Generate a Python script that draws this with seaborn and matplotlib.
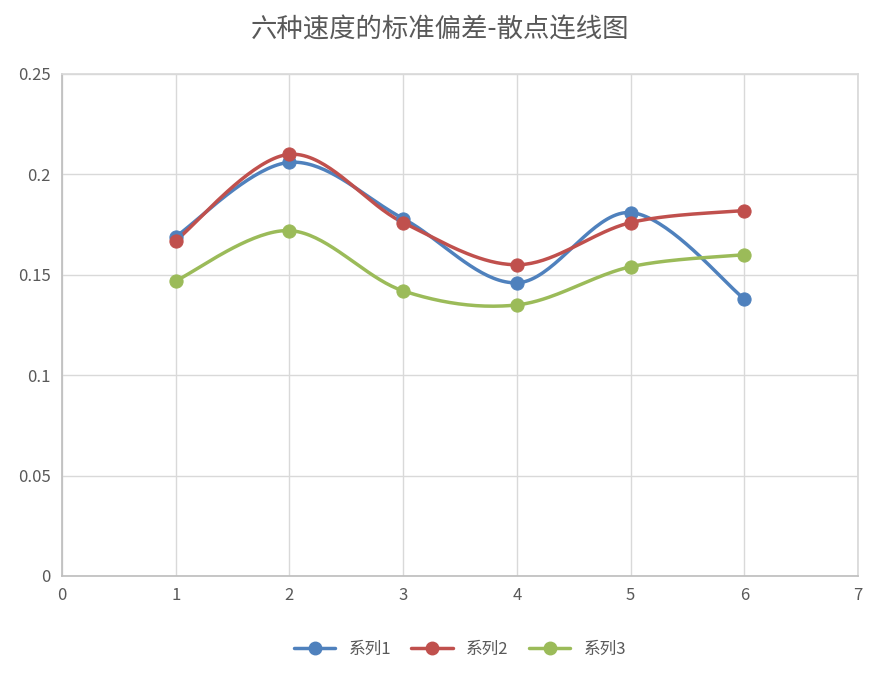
import numpy as np
import matplotlib
matplotlib.use("Agg")
import matplotlib.pyplot as plt
import seaborn as sns
import pandas as pd

x = [1, 2, 3, 4, 5, 6]
s1 = [0.169, 0.206, 0.178, 0.146, 0.181, 0.138]
s2 = [0.167, 0.210, 0.176, 0.155, 0.176, 0.182]
s3 = [0.147, 0.172, 0.142, 0.135, 0.154, 0.160]
names = ["系列1", "系列2", "系列3"]
colors = ["#4F81BD", "#C0504D", "#9BBB59"]

sns.set_theme(style="white")
plt.rcParams['font.family'] = ['Noto Sans CJK SC', 'DejaVu Sans']

def smooth(xs, ys, n=40):
    P = np.column_stack([xs, ys]).astype(float)
    P = np.vstack([P[0], P, P[-1]])
    out = []
    t = np.linspace(0, 1, n)[:, None]
    for i in range(1, len(P) - 2):
        p0, p1, p2, p3 = P[i-1], P[i], P[i+1], P[i+2]
        c1 = p1 + (p2 - p0) / 6
        c2 = p2 - (p3 - p1) / 6
        seg = (1-t)**3*p1 + 3*(1-t)**2*t*c1 + 3*(1-t)*t**2*c2 + t**3*p2
        out.append(seg)
    out = np.vstack(out)
    return out[:, 0], out[:, 1]

fig = plt.figure(figsize=(8.81, 6.74), dpi=100)
ax = fig.add_axes([62/881, 1-576/674, (858-62)/881, (576-74)/674])
for ys, nm, c in zip([s1, s2, s3], names, colors):
    sx, sy = smooth(x, ys)
    ax.plot(sx, sy, color=c, lw=2.5, zorder=2)
    df = pd.DataFrame({"x": x, "y": ys})
    sns.scatterplot(data=df, x="x", y="y", ax=ax, color=c, s=90, edgecolor=c, zorder=3)
    ax.plot([], [], color=c, lw=2.5, marker="o", ms=9, label=nm)

ax.set_xlim(0, 7)
ax.set_ylim(0, 0.25)
ax.set_xticks(range(0, 8))
ax.set_yticks([0, 0.05, 0.1, 0.15, 0.2, 0.25])
ax.set_yticklabels(["0", "0.05", "0.1", "0.15", "0.2", "0.25"])
ax.grid(True, color="#D9D9D9", lw=1)
ax.set_axisbelow(True)
for sp in ax.spines.values():
    sp.set_color("#D9D9D9")
ax.spines['bottom'].set_color("#BFBFBF")
ax.spines['left'].set_color("#BFBFBF")
ax.tick_params(colors="#595959", labelsize=12, length=0, pad=8)
ax.set_xlabel("")
ax.set_ylabel("")
fig.suptitle("六种速度的标准偏差-散点连线图", y=0.975, fontsize=19, color="#595959")
ax.legend(loc="upper center", bbox_to_anchor=(0.5, -0.1), ncol=3, frameon=False,
          fontsize=12, labelcolor="#595959", handlelength=2.5, columnspacing=1.2)
fig.savefig("out.png", dpi=100)
